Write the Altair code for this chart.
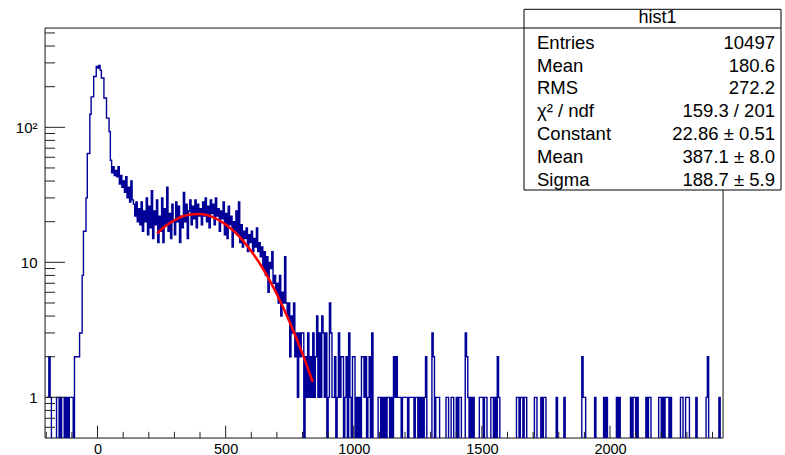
import altair as alt
import pandas as pd

# ---------------- histogram (bin width 5, first bin starts at -200) ----------------
BIN_START = -200
BIN_WIDTH = 5

counts_m200 = [1, 1, 2, 1, 0, 0, 0, 0, 1, 1, 0, 1, 0, 0, 1, 0, 1, 0, 1, 1]
counts_m100 = [1, 0, 2, 2, 2, 2, 3, 3, 8, 17, 17, 30, 64, 64, 125, 168, 168, 238, 238, 282]
counts_0 = [275, 287, 265, 232, 232, 165, 165, 117, 117, 93, 57, 46, 51, 44, 48, 43, 51, 38, 44, 36]
counts_100 = [40, 33, 43, 30, 36, 28, 40, 29, 27, 22, 28, 20, 25, 19, 28, 17, 24, 20, 30, 16]
counts_200 = [26, 18, 34, 15, 24, 19, 29, 14, 22, 17, 30, 14, 25, 19, 36, 17, 23, 15, 27, 20]
counts_300 = [16, 28, 20, 26, 14, 22, 18, 33, 20, 27, 15, 24, 29, 19, 26, 21, 29, 18, 27, 22]
counts_400 = [25, 19, 28, 22, 30, 20, 26, 18, 29, 23, 27, 19, 30, 22, 25, 17, 24, 21, 28, 16]
counts_500 = [23, 15, 26, 19, 22, 13, 20, 17, 24, 16, 28, 14, 19, 13, 17, 15, 18, 12, 16, 14]
counts_600 = [17, 12, 15, 13, 18, 12, 14, 11, 13, 9, 12, 8, 11, 6, 10, 9, 12, 7, 8, 6]
counts_700 = [7, 5, 8, 4, 6, 5, 11, 5, 4, 5, 2, 4, 3, 5, 2, 3, 1, 3, 2, 3]
counts_800 = [3, 0, 2, 1, 3, 1, 2, 1, 3, 1, 2, 4, 1, 3, 1, 4, 3, 1, 3, 0]
counts_900 = [1, 5, 3, 1, 1, 2, 0, 1, 3, 1, 2, 2, 0, 1, 2, 0, 3, 1, 0, 2]
counts_1000 = [2, 0, 1, 0, 1, 0, 2, 2, 1, 2, 0, 1, 2, 0, 3, 0, 0, 0, 0, 1]
counts_1100 = [1, 0, 1, 0, 1, 0, 1, 1, 0, 1, 0, 2, 1, 2, 1, 1, 1, 0, 1, 1]
counts_1200 = [1, 1, 0, 1, 1, 1, 1, 0, 1, 1, 0, 1, 0, 1, 0, 1, 2, 0, 0, 0]
counts_1300 = [0, 3, 2, 0, 1, 1, 1, 0, 0, 0, 0, 0, 1, 1, 0, 0, 1, 1, 0, 0]
counts_1400 = [1, 0, 1, 1, 0, 0, 0, 3, 2, 1, 0, 1, 0, 1, 0, 0, 0, 0, 1, 1]
counts_1500 = [1, 0, 1, 1, 0, 0, 0, 1, 1, 0, 1, 0, 2, 1, 0, 0, 0, 0, 0, 0]
counts_1600 = [0, 0, 0, 0, 0, 0, 0, 1, 1, 0, 1, 1, 0, 1, 1, 0, 0, 0, 0, 0]
counts_1700 = [0, 1, 1, 0, 0, 0, 1, 0, 1, 1, 0, 0, 0, 0, 0, 0, 0, 0, 1, 0]
counts_1800 = [0, 0, 0, 0, 1, 0, 0, 0, 0, 0, 0, 0, 0, 0, 0, 0, 0, 0, 2, 1]
counts_1900 = [1, 0, 0, 0, 0, 0, 0, 0, 1, 0, 0, 0, 0, 0, 0, 1, 0, 1, 0, 0]
counts_2000 = [0, 0, 0, 0, 0, 1, 0, 1, 0, 0, 0, 0, 0, 0, 0, 0, 1, 0, 1, 1]
counts_2100 = [0, 1, 0, 0, 0, 0, 0, 0, 1, 0, 1, 1, 0, 0, 0, 0, 0, 0, 1, 1]
counts_2200 = [0, 1, 0, 1, 1, 1, 0, 1, 0, 0, 0, 0, 0, 0, 0, 1, 1, 0, 0, 1]
counts_2300 = [1, 1, 0, 0, 0, 0, 0, 1, 0, 0, 0, 0, 0, 0, 0, 1, 2, 0, 0, 0]
counts_2400 = [0, 0, 0, 0, 0, 1, 0, 0]

counts = (counts_m200 + counts_m100 + counts_0 + counts_100 + counts_200 + counts_300
          + counts_400 + counts_500 + counts_600 + counts_700 + counts_800 + counts_900
          + counts_1000 + counts_1100 + counts_1200 + counts_1300 + counts_1400
          + counts_1500 + counts_1600 + counts_1700 + counts_1800 + counts_1900
          + counts_2000 + counts_2100 + counts_2200 + counts_2300 + counts_2400)

edges = [BIN_START + i * BIN_WIDTH for i in range(len(counts))]
hist_df = pd.DataFrame({"x": edges + [BIN_START + len(counts) * BIN_WIDTH],
                        "count": counts + [counts[-1]]})

# ---------------- gaussian fit curve ----------------
fit_x = [233, 250, 300, 350, 400, 450, 500, 550, 600, 650, 700, 750, 800, 840]
fit_y = [16.4, 17.6, 20.5, 22.4, 22.8, 21.6, 19.1, 15.8, 12.1, 8.7, 5.8, 3.6, 2.1, 1.3]
fit_df = pd.DataFrame({"x": fit_x, "y": fit_y})

# ---------------- axes ticks ----------------
x_major = [0, 500, 1000, 1500, 2000]
x_minor = [-200, -100, 100, 200, 300, 400, 600, 700, 800, 900, 1100, 1200, 1300, 1400,
           1600, 1700, 1800, 1900, 2100, 2200, 2300, 2400]
y_major = [1, 10, 100]
y_minor = [0.6, 0.7, 0.8, 0.9, 2, 3, 4, 5, 6, 7, 8, 9, 20, 30, 40, 50, 60, 70, 80, 90,
           200, 300, 400, 500]

# ---------------- stats box ----------------
stat_title = "hist1"
stat_labels = ["Entries", "Mean", "RMS", "χ² / ndf", "Constant", "Mean", "Sigma"]
stat_values = ["10497", "180.6", "272.2", "159.3 / 201", "22.86 ± 0.51", "387.1 ± 8.0", "188.7 ± 5.9"]

W, H = 678, 410
FONT = "Liberation Sans"
BLUE = "#000099"
FRAME = "#222222"

xscale = alt.Scale(domain=[-205, 2441], nice=False, zero=False)
yscale = alt.Scale(type="log", domain=[0.5, 544], nice=False)

x_axis = alt.Axis(values=x_major, format="d", ticks=False, domain=False, grid=False,
                  labelFontSize=14.5, labelFont=FONT, labelColor="black", labelPadding=4,
                  labelFlush=False, title=None)
y_axis = alt.Axis(values=y_major, ticks=False, domain=False, grid=False,
                  labelExpr="datum.value == 100 ? '10²' : (datum.value == 10 ? '10' : '1')",
                  labelFontSize=15, labelFont=FONT, labelColor="black", labelPadding=8,
                  title=None)

one = pd.DataFrame({"a": [0]})

frame = alt.Chart(one).mark_rect(fillOpacity=0, stroke=FRAME, strokeWidth=1).encode(
    x=alt.value(0), x2=alt.value(W), y=alt.value(0), y2=alt.value(H))

hist = alt.Chart(hist_df).transform_calculate(
    yv="max(datum.count, 0.2)"
).mark_line(interpolate="step-after", color=BLUE, strokeWidth=1.4, clip=True).encode(
    x=alt.X("x:Q", scale=xscale, axis=x_axis),
    y=alt.Y("yv:Q", scale=yscale, axis=y_axis),
)

fit = alt.Chart(fit_df).mark_line(color="#ff0000", strokeWidth=2.5, interpolate="monotone").encode(
    x=alt.X("x:Q", scale=xscale, axis=x_axis),
    y=alt.Y("y:Q", scale=yscale, axis=y_axis),
)


def xticks(vals, length):
    return alt.Chart(pd.DataFrame({"v": vals})).mark_rule(color=FRAME, strokeWidth=1).encode(
        x=alt.X("v:Q", scale=xscale, axis=x_axis), y=alt.value(H), y2=alt.value(H - length))


def yticks(vals, length):
    return alt.Chart(pd.DataFrame({"v": vals})).mark_rule(color=FRAME, strokeWidth=1).encode(
        y=alt.Y("v:Q", scale=yscale, axis=y_axis), x=alt.value(0), x2=alt.value(length))


# stats box (pixel coordinates relative to plot area origin)
BX0, BX1, BY0, BY1 = 479, 736, -18.7, 162
box = alt.Chart(one).mark_rect(fill="white", stroke="black", strokeWidth=1).encode(
    x=alt.value(BX0), x2=alt.value(BX1), y=alt.value(BY0), y2=alt.value(BY1))
sep = alt.Chart(one).mark_rule(color="black", strokeWidth=1).encode(
    x=alt.value(BX0), x2=alt.value(BX1), y=alt.value(0))
title_txt = alt.Chart(one).mark_text(font=FONT, fontSize=18, align="center",
                                     baseline="alphabetic", color="black").encode(
    x=alt.value((BX0 + BX1) / 2 + 5), y=alt.value(-5.5), text=alt.value(stat_title))

texts = []
for i, (lab, val) in enumerate(zip(stat_labels, stat_values)):
    yb = 20.8 + 22.8 * i
    texts.append(alt.Chart(one).mark_text(font=FONT, fontSize=18.5, align="left",
                                          baseline="alphabetic", color="black").encode(
        x=alt.value(492), y=alt.value(yb), text=alt.value(lab)))
    texts.append(alt.Chart(one).mark_text(font=FONT, fontSize=18.5, align="right",
                                          baseline="alphabetic", color="black").encode(
        x=alt.value(730), y=alt.value(yb), text=alt.value(val)))

chart = alt.layer(
    frame, hist, fit,
    xticks(x_major, 12.3), xticks(x_minor, 6.2),
    yticks(y_major, 20), yticks(y_minor, 10),
    box, sep, title_txt, *texts
).properties(
    width=W, height=H,
    autosize=alt.AutoSizeParams(type="none"),
    padding={"left": 45, "top": 28, "right": 62, "bottom": 17},
).configure_view(strokeWidth=0).configure(background="white")

chart.save("out.html", embed_options={"renderer": "svg", "actions": False})
